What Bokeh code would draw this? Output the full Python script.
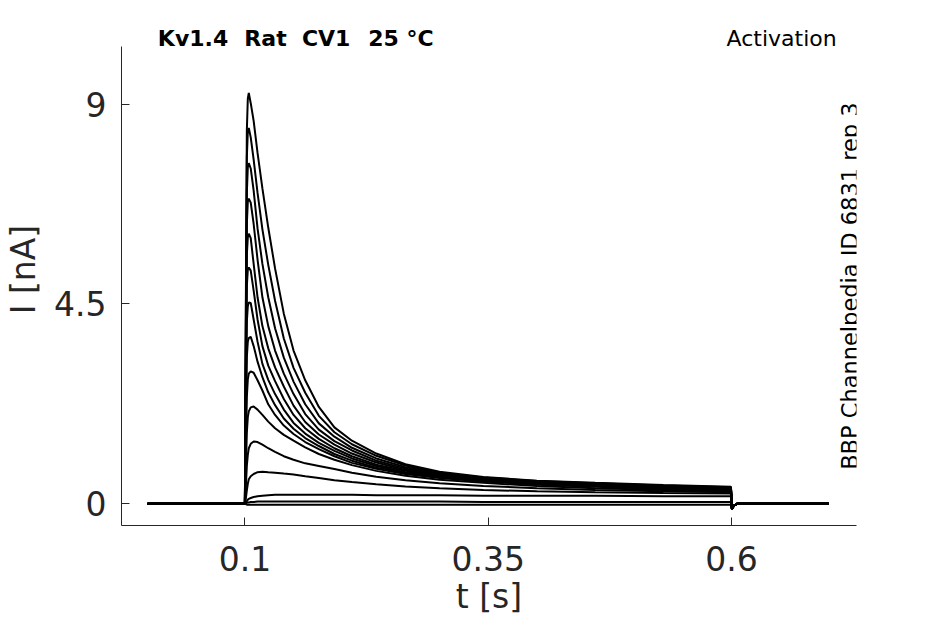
from bokeh.plotting import figure
from bokeh.models import Range1d, Label, FixedTicker, ColumnDataSource
from bokeh.embed import file_html
from bokeh.resources import INLINE

# ---- data ----
time_pre = [0.0, 0.0995]
time_pulse = [0.1000, 0.1010, 0.1020, 0.1030, 0.1040, 0.1060, 0.1090, 0.1130,
              0.1180, 0.1240, 0.1310, 0.1400, 0.1500, 0.1620, 0.1760, 0.1920,
              0.2100, 0.2350, 0.2650, 0.3000, 0.3450, 0.4000, 0.4600, 0.5300, 0.5995]
time_post = [0.6005, 0.6025, 0.6060, 0.7000]

baseline_pre = [0.0, 0.0]
tail_values = [-0.12, -0.04, 0.0, 0.0]

trace_01 = [0, 4.6, 8.4, 9.12, 9.25, 9.02, 8.62, 7.90, 7.10, 6.22, 5.30, 4.28, 3.45, 2.78, 2.18, 1.72, 1.42, 1.13, 0.89, 0.72, 0.60, 0.52, 0.47, 0.42, 0.38]
trace_02 = [0, 4.2, 7.8, 8.38, 8.46, 8.25, 7.75, 7.00, 6.18, 5.38, 4.57, 3.72, 3.06, 2.50, 1.98, 1.61, 1.34, 1.08, 0.86, 0.70, 0.59, 0.51, 0.46, 0.41, 0.37]
trace_03 = [0, 3.8, 7.0, 7.58, 7.67, 7.55, 7.05, 6.20, 5.40, 4.65, 3.95, 3.29, 2.75, 2.24, 1.81, 1.51, 1.26, 1.02, 0.82, 0.68, 0.58, 0.50, 0.45, 0.40, 0.36]
trace_04 = [0, 3.4, 6.3, 6.80, 6.87, 6.78, 6.30, 5.50, 4.65, 4.00, 3.45, 2.93, 2.47, 2.02, 1.67, 1.41, 1.20, 0.97, 0.79, 0.66, 0.57, 0.49, 0.44, 0.39, 0.35]
trace_05 = [0, 3.0, 5.6, 6.00, 6.08, 5.98, 5.40, 4.65, 4.00, 3.50, 3.07, 2.64, 2.21, 1.84, 1.56, 1.33, 1.13, 0.93, 0.76, 0.65, 0.56, 0.48, 0.43, 0.38, 0.34]
trace_06 = [0, 2.7, 4.9, 5.27, 5.32, 5.25, 4.80, 4.15, 3.55, 3.11, 2.76, 2.36, 2.00, 1.70, 1.46, 1.25, 1.07, 0.88, 0.74, 0.63, 0.55, 0.47, 0.42, 0.37, 0.33]
trace_07 = [0, 2.2, 4.1, 4.45, 4.53, 4.52, 4.15, 3.65, 3.15, 2.79, 2.47, 2.12, 1.82, 1.58, 1.37, 1.19, 1.02, 0.85, 0.71, 0.62, 0.54, 0.46, 0.41, 0.36, 0.32]
trace_08 = [0, 1.8, 3.3, 3.65, 3.73, 3.76, 3.55, 3.20, 2.85, 2.51, 2.22, 1.92, 1.69, 1.48, 1.30, 1.12, 0.97, 0.81, 0.69, 0.60, 0.52, 0.45, 0.40, 0.35, 0.31]
trace_09 = [0, 1.3, 2.4, 2.80, 2.93, 2.98, 2.95, 2.78, 2.55, 2.24, 2.00, 1.76, 1.57, 1.39, 1.23, 1.07, 0.92, 0.79, 0.67, 0.58, 0.50, 0.43, 0.38, 0.33, 0.30]
trace_10 = [0, 0.8, 1.6, 1.95, 2.08, 2.17, 2.19, 2.12, 2.00, 1.85, 1.70, 1.55, 1.42, 1.27, 1.12, 0.99, 0.87, 0.74, 0.63, 0.54, 0.47, 0.40, 0.35, 0.31, 0.28]
trace_11 = [0, 0.4, 0.85, 1.10, 1.25, 1.35, 1.40, 1.39, 1.33, 1.25, 1.17, 1.07, 0.99, 0.91, 0.85, 0.78, 0.70, 0.61, 0.53, 0.46, 0.40, 0.35, 0.31, 0.28, 0.26]
trace_12 = [0, 0.12, 0.30, 0.45, 0.55, 0.62, 0.67, 0.71, 0.72, 0.71, 0.70, 0.68, 0.66, 0.62, 0.58, 0.53, 0.49, 0.44, 0.39, 0.35, 0.31, 0.28, 0.26, 0.24, 0.23]
trace_13 = [0, 0.03, 0.06, 0.09, 0.11, 0.13, 0.15, 0.17, 0.18, 0.19, 0.20, 0.20, 0.20, 0.20, 0.20, 0.20, 0.20, 0.19, 0.19, 0.19, 0.18, 0.18, 0.18, 0.17, 0.17]
trace_14 = [0, 0.01, 0.02, 0.03, 0.03, 0.04, 0.04, 0.05, 0.05, 0.05, 0.05, 0.05, 0.05, 0.05, 0.05, 0.05, 0.05, 0.05, 0.05, 0.05, 0.04, 0.04, 0.04, 0.04, 0.04]
trace_15 = [0, -0.01, -0.02, -0.02, -0.02, -0.02, -0.02, -0.02, -0.02, -0.02, -0.02, -0.02, -0.02, -0.02, -0.02, -0.02, -0.02, -0.02, -0.02, -0.02, -0.02, -0.02, -0.02, -0.02, -0.02]

traces = [trace_01, trace_02, trace_03, trace_04, trace_05, trace_06, trace_07,
          trace_08, trace_09, trace_10, trace_11, trace_12, trace_13, trace_14, trace_15]

x_ticks = [0.1, 0.35, 0.6]
x_tick_labels = ["0.1", "0.35", "0.6"]
y_ticks = [0, 4.5, 9]
y_tick_labels = ["0", "4.5", "9"]

# title "Kv1.4  Rat  CV1  25 °C" (words kept apart as in the reference)
title_words = ["Kv1.4", "Rat", "CV1", "25 °C"]
title_word_x = [0.0467, 0.1212, 0.1835, 0.2603]
protocol_text = "Activation"
source_text = "BBP Channelpedia ID 6831 rep 3"

# ---- figure ----
FONT = "DejaVu Sans"
AX = "#262626"

p = figure(width=940, height=620, output_backend="svg", toolbar_location=None,
           x_range=Range1d(-0.0268, 0.7285), y_range=Range1d(-0.49, 11.04),
           min_border_left=121, min_border_right=84, min_border_top=13, min_border_bottom=95)
p.outline_line_color = None
p.grid.visible = False
p.background_fill_color = "white"
p.border_fill_color = "white"

xs = [time_pre + time_pulse + time_post for _ in traces]
ys = [baseline_pre + tr + tail_values for tr in traces]
src = ColumnDataSource(dict(xs=xs, ys=ys))
p.multi_line("xs", "ys", source=src, line_color="black", line_width=2.0)

for ax, ticks, labels in ((p.xaxis[0], x_ticks, x_tick_labels), (p.yaxis[0], y_ticks, y_tick_labels)):
    ax.ticker = FixedTicker(ticks=ticks)
    ax.major_label_overrides = {t: l for t, l in zip(ticks, labels)}
    ax.major_tick_in = 8
    ax.major_tick_out = 0
    ax.minor_tick_line_color = None
    ax.axis_line_color = AX
    ax.major_tick_line_color = AX
    ax.axis_line_width = 1
    ax.major_label_text_font = FONT
    ax.major_label_text_font_size = "33px"
    ax.major_label_text_color = AX
    ax.major_label_text_line_height = 1.0
    ax.axis_label_text_font = FONT
    ax.axis_label_text_font_size = "33px"
    ax.axis_label_text_color = AX
    ax.axis_label_text_font_style = "normal"
    ax.axis_label_text_line_height = 1.0

p.yaxis.bounds = (-0.49, 10.30)
p.xaxis.axis_label = "t [s]"
p.yaxis.axis_label = "I [nA]"
p.xaxis.major_label_standoff = 20
p.xaxis.axis_label_standoff = 3
p.yaxis.major_label_standoff = 15
p.yaxis.axis_label_standoff = 8

for word, wx in zip(title_words, title_word_x):
    p.add_layout(Label(x=wx, y=10.47, text=word, text_font=FONT, text_font_size="22px",
                       text_font_style="bold", text_color="black", text_align="center",
                       text_baseline="middle"))
p.add_layout(Label(x=0.6516, y=10.47, text=protocol_text, text_font=FONT, text_font_size="22px",
                   text_color="black", text_align="center", text_baseline="middle"))
p.add_layout(Label(x=0.7215, y=4.90, text=source_text, text_font=FONT, text_font_size="22.5px",
                   text_color="black", text_align="center", text_baseline="middle", angle=1.5708))

open("out.html", "w").write(file_html(p, INLINE))
